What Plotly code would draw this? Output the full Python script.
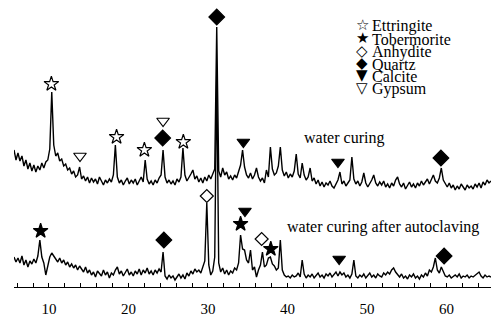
import numpy as np
import plotly.graph_objects as go

# ---------------- data ----------------
two_theta = np.round(np.arange(5.6, 65.6001, 0.25), 2)  # diffraction angle grid (deg)

water_curing = [
    137, 127, 134, 126, 131, 121, 127, 118, 124, 116,
    122, 115, 121, 117, 124, 119, 125, 127, 138, 195,
    142, 131, 134, 126, 128, 121, 123, 117, 119, 113,
    116, 110, 112, 120, 108, 111, 106, 110, 104, 109,
    105, 108, 103, 110, 106, 102, 107, 104, 108, 105,
    112, 142, 110, 104, 107, 102, 106, 109, 103, 107,
    104, 108, 102, 106, 110, 105, 127, 108, 103, 106,
    102, 107, 104, 109, 112, 137, 110, 104, 107, 103,
    106, 102, 108, 105, 110, 139, 112, 106, 109, 113,
    117, 108, 111, 105, 109, 104, 110, 106, 112, 108,
    113, 118, 260, 116, 110, 119, 112, 115, 108, 111,
    107, 112, 109, 115, 122, 137, 120, 112, 109, 114,
    108, 112, 119, 110, 106, 109, 104, 117, 110, 140,
    118, 112, 114, 121, 140, 117, 111, 115, 109, 113,
    110, 116, 133, 113, 109, 124, 112, 107, 110, 119,
    106, 109, 103, 107, 101, 105, 100, 104, 102, 106,
    101, 99, 104, 107, 115, 103, 106, 101, 104, 107,
    130, 108, 103, 106, 101, 105, 114, 104, 100, 103,
    107, 112, 104, 101, 105, 102, 106, 100, 103, 99,
    104, 101, 107, 110, 103, 100, 104, 98, 102, 105,
    100, 103, 99, 104, 101, 106, 102, 105, 108, 103,
    107, 112, 106, 104, 109, 119, 107, 103, 100, 104,
    99, 102, 97, 101, 98, 103, 100, 97, 102, 99,
    101, 98, 103, 100, 104, 99, 105, 102, 107, 104, 106,
]

autoclaved = [
    30, 25, 29, 24, 31, 22, 27, 20, 26, 23,
    28, 24, 31, 47, 30, 24, 12, 22, 30, 34,
    31, 28, 25, 29, 24, 27, 22, 25, 20, 23,
    19, 22, 17, 21, 18, 15, 20, 14, 17, 12,
    15, 10, 16, 13, 11, 17, 12, 15, 9, 14,
    12, 17, 20, 13, 16, 11, 14, 18, 12, 15,
    11, 16, 13, 18, 12, 17, 14, 19, 13, 16,
    12, 17, 14, 18, 15, 35, 11, 8, 12, 9,
    11, 7, 10, 13, 9, 12, 8, 14, 11, 16,
    13, 18, 15, 17, 14, 19, 26, 84, 22, 12,
    16, 30, 215, 24, 15, 19, 13, 17, 12, 16,
    14, 19, 17, 24, 52, 38, 37, 27, 24, 37,
    17, 20, 10, 17, 22, 35, 20, 22, 29, 30,
    23, 21, 17, 19, 47, 17, 12, 10, 11, 9,
    12, 10, 11, 14, 10, 27, 13, 9, 12, 10,
    13, 9, 11, 14, 10, 12, 9, 13, 11, 14,
    10, 13, 15, 11, 15, 12, 14, 10, 12, 9,
    13, 27, 11, 9, 12, 10, 13, 9, 11, 14,
    10, 12, 9, 13, 11, 10, 14, 12, 15, 13,
    17, 19, 15, 12, 10, 13, 9, 11, 8, 12,
    10, 13, 9, 11, 8, 12, 10, 14, 11, 17,
    15, 20, 29, 17, 14, 20, 16, 11, 10, 12,
    9, 11, 12, 10, 13, 9, 11, 10, 12, 9,
    11, 10, 12, 13, 15, 11, 9, 12, 10, 11, 10,
]

# phase identification marks (2theta, intensity)
ettringite_x = [10.3, 18.5, 22.0, 26.9]
ettringite_y = [203, 150, 137, 145]
tobermorite_x = [8.95, 34.1, 37.9]
tobermorite_y = [56, 63, 38]
anhydrite_x = [29.85, 36.75]
anhydrite_y = [91, 48]
quartz_x = [31.1, 24.3, 59.3, 24.45, 59.7]
quartz_y = [270, 149, 129, 47, 31]
calcite_x = [34.45, 46.35, 34.65, 46.5]
calcite_y = [145, 125, 76, 28]
gypsum_x = [13.9, 24.35]
gypsum_y = [131, 166]

x_ticks = [10, 20, 30, 40, 50, 60]
legend_names = ["Ettringite", "Tobermorite", "Anhydite", "Quartz", "Calcite", "Gypsum"]
legend_glyphs = ["☆", "★", "◇", "◆", "▼", "▽"]

assert len(water_curing) == len(two_theta) == len(autoclaved)

# ---------------- figure ----------------
W, H = 491, 324
ML, MR, MT, MB = 14, 0, 0, 37
X0, X1 = 5.6, 65.6
Y0, Y1 = 0, 287
SERIF = "Liberation Serif, Times New Roman, serif"


def px2x(px):
    return X0 + (px - ML) / (W - ML - MR) * (X1 - X0)


def py2y(py):
    return Y1 - (py - MT) / (H - MT - MB) * (Y1 - Y0)


fig = go.Figure()
for series in (water_curing, autoclaved):
    fig.add_trace(go.Scatter(x=two_theta, y=series, mode="lines",
                             line=dict(color="black", width=1.4), hoverinfo="skip"))

mark_specs = [
    (ettringite_x, ettringite_y, "star-open", 11),
    (tobermorite_x, tobermorite_y, "star", 11),
    (anhydrite_x, anhydrite_y, "diamond-open", 10),
    (quartz_x, quartz_y, "diamond", 12),
    (calcite_x, calcite_y, "triangle-down", 11),
    (gypsum_x, gypsum_y, "triangle-down-open", 11),
]
for mx, my, sym, size in mark_specs:
    fig.add_trace(go.Scatter(x=mx, y=my, mode="markers",
                             marker=dict(symbol=sym, size=size, color="black",
                                         line=dict(color="black", width=1.2)),
                             hoverinfo="skip"))

annotations = []
# sample labels
annotations.append(dict(x=px2x(344), y=py2y(138), text="water curing", showarrow=False,
                        font=dict(family=SERIF, size=16, color="black")))
annotations.append(dict(x=px2x(383), y=py2y(227), text="water curing after autoclaving",
                        showarrow=False, font=dict(family=SERIF, size=16, color="black")))
# legend block
row_py = [25, 38, 51, 63, 75, 88]
for name, glyph, rpy in zip(legend_names, legend_glyphs, row_py):
    annotations.append(dict(x=px2x(362), y=py2y(rpy), text=glyph, showarrow=False,
                            xanchor="center", yanchor="middle",
                            font=dict(family="DejaVu Sans", size=15, color="black")))
    annotations.append(dict(x=px2x(370), y=py2y(rpy + 1), text=name, showarrow=False,
                            xanchor="left", yanchor="middle",
                            font=dict(family=SERIF, size=16, color="black")))
# axis title
annotations.append(dict(x=px2x(238), y=py2y(316), text="2−<i>θ</i>/（ ° ）", showarrow=False,
                        xanchor="center", yanchor="middle",
                        font=dict(family=SERIF + ", Noto Sans CJK SC", size=16, color="black")))

fig.update_layout(
    width=W, height=H,
    margin=dict(l=ML, r=MR, t=MT, b=MB, pad=0),
    paper_bgcolor="white", plot_bgcolor="white",
    showlegend=False,
    annotations=annotations,
    xaxis=dict(range=[X0, X1], tickvals=x_ticks, ticks="inside", ticklen=4, tickwidth=1,
               tickcolor="black", showline=True, linecolor="black", linewidth=1,
               showgrid=False, zeroline=False, ticklabelstandoff=8,
               tickfont=dict(family=SERIF, size=15, color="black"),
               minor=dict(dtick=2, tick0=0, ticks="inside", ticklen=4, tickcolor="black",
                          tickwidth=1, showgrid=False)),
    yaxis=dict(range=[Y0, Y1], visible=False, showgrid=False, zeroline=False),
)

fig.write_html("out.html")
